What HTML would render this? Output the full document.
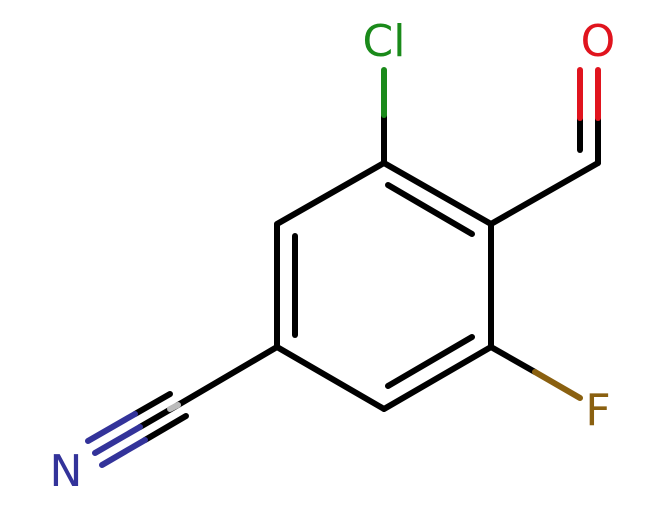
<!DOCTYPE html>
<html><head><meta charset="utf-8"><style>html,body{margin:0;padding:0;background:#fff}</style></head>
<body>
<svg width="663" height="510" viewBox="0 0 663 510" xmlns="http://www.w3.org/2000/svg">
<g stroke-width="6" stroke-linecap="round" fill="none">
<!-- ring -->
<path d="M384,163 L491,224 L491,347 L384,409 L277,347 L277,224 Z" stroke="#000" stroke-linejoin="round"/>
<line x1="388" y1="185" x2="472" y2="234" stroke="#000"/>
<line x1="472" y1="337" x2="388" y2="386" stroke="#000"/>
<line x1="295" y1="236" x2="295" y2="335" stroke="#000"/>
<!-- Cl -->
<line x1="384" y1="163" x2="384" y2="115" stroke="#000"/>
<line x1="384" y1="115" x2="384" y2="70" stroke="#1a8a1a"/>
<!-- CHO -->
<line x1="491" y1="224" x2="598" y2="163" stroke="#000"/>
<line x1="598" y1="163" x2="598" y2="118" stroke="#000"/>
<line x1="598" y1="118" x2="598" y2="70" stroke="#e0141e"/>
<line x1="580" y1="150" x2="580" y2="118" stroke="#000"/>
<line x1="580" y1="118" x2="580" y2="70" stroke="#e0141e"/>
<!-- F -->
<line x1="491" y1="347" x2="535" y2="372" stroke="#000"/>
<line x1="535" y1="372" x2="580" y2="398" stroke="#8a6010"/>
<!-- CN -->
<line x1="277" y1="347" x2="178" y2="405" stroke="#000"/>
<line x1="178" y1="405" x2="140" y2="427" stroke="#000"/>
<line x1="140" y1="427" x2="95" y2="453" stroke="#33339a"/>
<line x1="170" y1="394" x2="135" y2="414" stroke="#000"/>
<line x1="135" y1="414" x2="88" y2="441" stroke="#33339a"/>
<line x1="186" y1="416" x2="145" y2="440" stroke="#000"/>
<line x1="145" y1="440" x2="102" y2="465" stroke="#33339a"/>
<line x1="178" y1="405" x2="170" y2="409" stroke="#bbb"/>
</g>
<g font-family="'DejaVu Sans','Liberation Sans',sans-serif" font-size="44" text-anchor="middle">
<text x="384" y="56" fill="#1a8a1a">Cl</text>
<text x="598" y="56" fill="#e0141e">O</text>
<text x="598" y="425" fill="#8a6010">F</text>
<text x="66" y="486" fill="#33339a">N</text>
</g>
</svg>
</body></html>
